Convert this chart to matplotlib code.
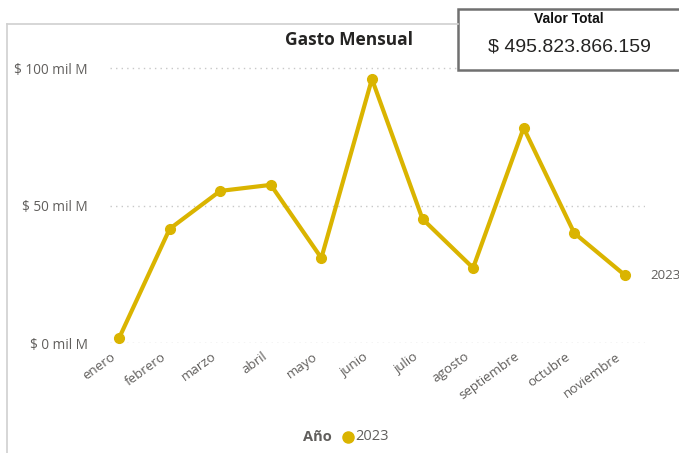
import matplotlib.pyplot as plt
import matplotlib.transforms as mtransforms
from matplotlib.patches import Rectangle
from matplotlib.lines import Line2D

# monthly spend, in "mil M" (thousand millions)
meses = ['enero', 'febrero', 'marzo', 'abril', 'mayo', 'junio', 'julio',
         'agosto', 'septiembre', 'octubre', 'noviembre']
gasto = [1.8, 41.5, 55.3, 57.5, 30.9, 96.0, 45.1, 27.3, 78.2, 40.0, 24.7]
yticks = [0, 50, 100]
ytick_labels = ['$ 0 mil M', '$ 50 mil M', '$ 100 mil M']
serie = '2023'
total_label = '$ 495.823.866.159'

color = '#DAB400'
gray = '#605E5C'
plt.rcParams['font.family'] = ['Open Sans', 'DejaVu Sans']

W, H = 679, 453
fig = plt.figure(figsize=(W / 100, H / 100), dpi=100)

# axes placed in pixel coords
left, right, top, bottom = 110, 645, 40, 343
ax = fig.add_axes([left / W, 1 - bottom / H, (right - left) / W, (bottom - top) / H])
x = list(range(len(meses)))
ax.plot(x, gasto, color=color, lw=3, marker='o', ms=7, clip_on=False, zorder=3)
ax.set_xlim(-0.18, 10.4)
ax.set_ylim(0, (bottom - top) / 2.75)
ax.set_yticks(yticks)
ax.set_yticklabels(ytick_labels, color=gray, fontsize=9.8)
ax.set_xticks(x)
ax.set_xticklabels(meses, rotation=36, ha='right', rotation_mode='anchor',
                   color=gray, fontsize=9.6)
ax.tick_params(axis='y', length=0, pad=16)
ax.tick_params(axis='x', length=0, pad=5)
shift = mtransforms.ScaledTranslation(-9 / 100, 0, fig.dpi_scale_trans)
for lab in ax.get_xticklabels():
    lab.set_transform(lab.get_transform() + shift)
ax.grid(axis='y', color='#C8C8C8', ls=(0, (1, 3)), lw=1)
for s in ax.spines.values():
    s.set_visible(False)
ax.text(10 + 0.5, gasto[-1], serie, color=gray, fontsize=9.5, va='center')

# panel border
fig.add_artist(Line2D([7 / W, 458 / W], [1 - 24 / H, 1 - 24 / H],
                      color='#D0D0D0', lw=1.2))
fig.add_artist(Line2D([7 / W, 7 / W], [1 - 24 / H, 0], color='#D0D0D0', lw=1.2))

fig.text(349 / W, 1 - 40 / H, 'Gasto Mensual', ha='center', va='center',
         fontsize=12.5, fontweight='bold', color='#252423')

# legend
fig.text(332 / W, 1 - 437 / H, 'Año', ha='right', va='center', fontsize=10.5,
         fontweight='bold', color=gray)
fig.add_artist(Line2D([348 / W], [1 - 437 / H], marker='o', ms=8, color=color))
fig.text(355 / W, 1 - 437 / H, serie, ha='left', va='center', fontsize=10.5, color=gray)

# card
fig.add_artist(Rectangle((458 / W, 1 - 70 / H), 230 / W, 61 / H,
                         transform=fig.transFigure, fill=True, facecolor='white',
                         edgecolor='#707070', lw=1.8))
fig.text(569 / W, 1 - 19 / H, 'Valor Total', ha='center', va='center', fontsize=10,
         fontweight='bold', family=['Liberation Sans'], color='#111111')
fig.text(569 / W, 1 - 47 / H, total_label, ha='center', va='center', fontsize=14,
         family=['Liberation Sans'], color='#252423')

fig.savefig('out.png', dpi=100)
